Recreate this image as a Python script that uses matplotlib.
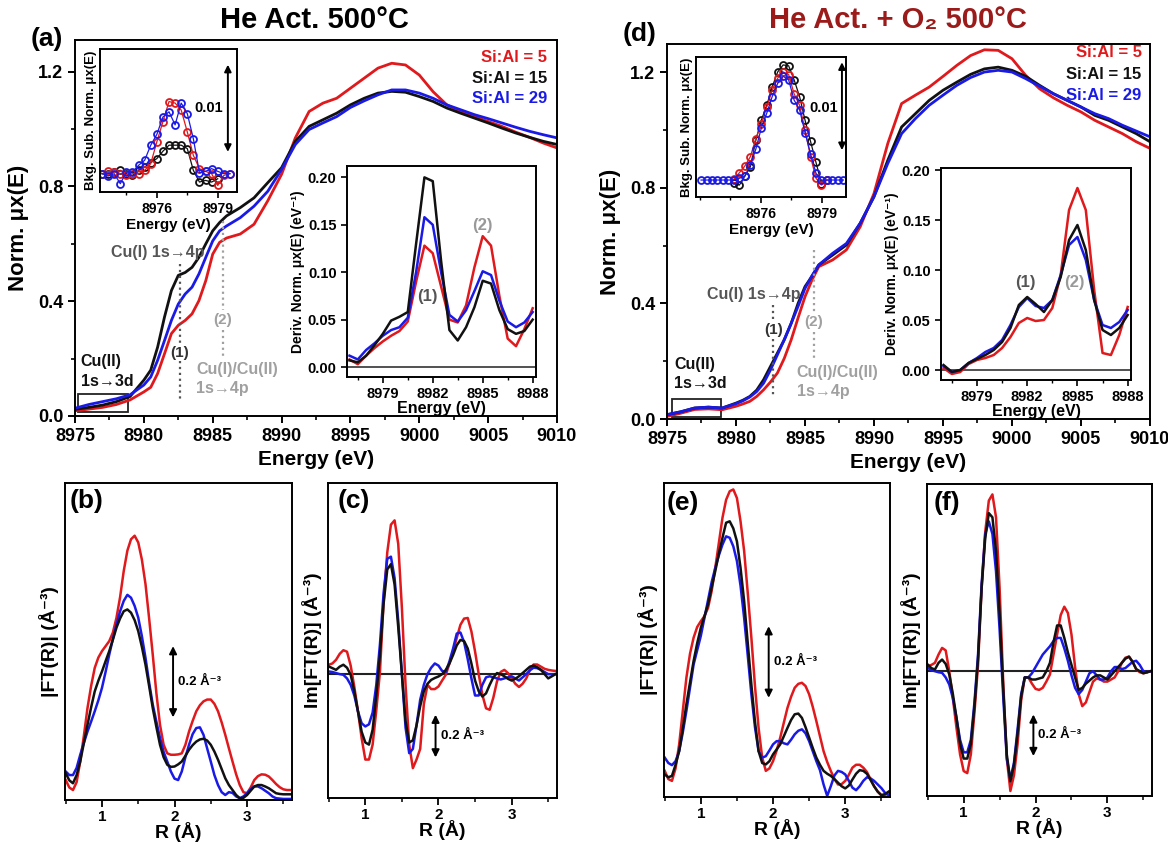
import numpy as np
import matplotlib
matplotlib.use('Agg')
import matplotlib.pyplot as plt
from matplotlib.patches import Rectangle
from matplotlib.ticker import MultipleLocator, FormatStrFormatter

plt.rcParams['font.family'] = ['Liberation Sans', 'DejaVu Sans']
plt.rcParams['font.weight'] = 'bold'
plt.rcParams['axes.labelweight'] = 'bold'
plt.rcParams['axes.linewidth'] = 1.4

RED = '#e0191c'
BLUE = '#1a1ae6'
BLACK = '#111111'
labels = ['Si:Al = 5', 'Si:Al = 15', 'Si:Al = 29']
colors = [RED, BLACK, BLUE]

# ---------------- XANES (main panels a, d) ----------------
E_main = [8975, 8976, 8977, 8978, 8979, 8980, 8980.5, 8981, 8981.5, 8982, 8982.5,
          8983, 8983.5, 8984, 8984.5, 8985, 8985.5, 8986, 8987, 8988, 8989, 8990,
          8991, 8992, 8993, 8994, 8995, 8996, 8997, 8998, 8999, 9000, 9001, 9002,
          9003, 9004, 9005, 9006, 9007, 9008, 9009, 9010]

a_red = [.018, .024, .03, .04, .056, .084, .10, .148, .217, .287, .316, .333, .356, .402,
         .472, .564, .605, .62, .634, .668, .75, .842, .969, 1.061, 1.09, 1.107, 1.142,
         1.177, 1.212, 1.229, 1.223, 1.188, 1.13, 1.084, 1.061, 1.043, 1.026, 1.009, .989,
         .971, .951, .934]
a_black = [.023, .03, .038, .05, .068, .125, .16, .24, .345, .437, .49, .50, .518, .553,
           .60, .645, .674, .697, .726, .76, .813, .865, .957, 1.009, 1.032, 1.055, 1.084,
           1.107, 1.125, 1.131, 1.128, 1.113, 1.096, 1.073, 1.055, 1.038, 1.021, 1.003,
           .986, .971, .957, .946]
a_blue = [.027, .04, .05, .06, .074, .108, .136, .194, .263, .333, .39, .425, .449, .495,
          .553, .61, .645, .662, .691, .731, .783, .859, .946, .998, 1.021, 1.043, 1.075,
          1.098, 1.119, 1.136, 1.136, 1.125, 1.107, 1.084, 1.067, 1.05, 1.036, 1.021,
          1.006, .992, .98, .969]

d_red = [.009, .02, .033, .035, .032, .044, .052, .061, .078, .101, .128, .159, .21, .274,
         .35, .423, .48, .527, .55, .585, .665, .78, .953, 1.091, 1.12, 1.148, 1.185,
         1.223, 1.257, 1.277, 1.275, 1.246, 1.188, 1.142, 1.111, 1.085, 1.062, 1.033,
         1.01, .987, .959, .936]
d_black = [.015, .025, .038, .041, .038, .055, .065, .078, .10, .136, .182, .228, .274,
           .331, .40, .458, .493, .533, .567, .602, .677, .769, .895, 1.01, 1.056, 1.102,
           1.137, 1.165, 1.192, 1.211, 1.217, 1.206, 1.185, 1.154, 1.125, 1.102, 1.079,
           1.05, 1.033, 1.01, .987, .959]
d_blue = [.015, .025, .038, .041, .038, .053, .063, .076, .095, .124, .17, .222, .275,
          .331, .39, .452, .495, .533, .573, .607, .677, .769, .884, .987, 1.039, 1.085,
          1.12, 1.154, 1.181, 1.2, 1.206, 1.2, 1.177, 1.151, 1.125, 1.102, 1.079, 1.056,
          1.039, 1.016, .996, .976]

# pre-edge insets (background subtracted, units of 1e-3)
E_pre_a = [8973.3, 8973.6, 8973.9, 8974.2, 8974.5, 8974.8, 8975.1, 8975.4, 8975.7, 8976.0,
           8976.3, 8976.6, 8976.9, 8977.2, 8977.5, 8977.8, 8978.1, 8978.4, 8978.7, 8979.0,
           8979.3, 8979.6]
pre_a_red = [0, .27, .2, 0, -.1, 0, 0, .38, 1.15, 3.65, 5.96, 8.27, 8.1, 7.3, 4.8, 2.1,
             .58, .27, 0, -1.35, -.2, 0]
pre_a_black = [0, 0, .2, .38, 0, -.2, .38, .77, 1.27, 1.73, 2.58, 3.27, 3.27, 3.27, 2.88,
               .38, -.96, -.77, -.96, -.58, np.nan, np.nan]
pre_a_blue = [0, -.27, 0, -1.15, .2, .2, .96, 1.54, 3.27, 4.5, 6.5, 7.1, 5.6, 8.1, 6.9,
              4.0, .1, .27, .58, .27, 0, 0]

E_pre_d = [8973.05, 8973.32, 8973.59, 8973.86, 8974.13, 8974.40, 8974.67, 8974.94,
           8975.21, 8975.48, 8975.75, 8976.02, 8976.29, 8976.56, 8976.83, 8977.10,
           8977.37, 8977.64, 8977.91, 8978.18, 8978.45, 8978.72, 8978.99, 8979.26,
           8979.53, 8979.80, 8980.07]
nan = np.nan
pre_d_red = [nan, nan, nan, nan, nan, nan, .1, .83, 1.6, 2.65, 4.7, 6.4, 8.3, 10.2, 11.6,
             12.3, 12.0, 9.8, 8.5, 5.7, 2.65, .2, -.57, 0, nan, nan, nan]
pre_d_black = [nan, nan, nan, nan, nan, nan, -.3, -.57, .45, 1.5, 4.5, 6.8, 8.5, 10.6,
               12.3, 13.1, 13.0, 11.4, 9.5, 6.8, 4.4, 2.0, -.4, 0, nan, nan, nan]
pre_d_blue = [0, 0, 0, 0, 0, 0, 0, .2, .45, 1.7, 3.5, 5.9, 7.6, 9.5, 11.0, 11.8, 11.4,
              9.1, 8.0, 5.4, 3.0, .76, 0, 0, 0, 0, 0]

# first derivative insets
E_der = [8977.0, 8977.5, 8978.0, 8978.5, 8979.0, 8979.5, 8980.0, 8980.5, 8981.0, 8981.5,
         8982.0, 8982.5, 8983.0, 8983.5, 8984.0, 8984.5, 8985.0, 8985.5, 8986.0, 8986.5,
         8987.0, 8987.5, 8988.0]
der_a_red = [.008, .003, .012, .02, .027, .033, .038, .048, .09, .128, .12, .085, .05,
             .047, .065, .105, .138, .128, .075, .03, .022, .04, .062]
der_a_black = [.007, .005, .012, .023, .035, .049, .053, .058, .13, .20, .196, .112, .039,
               .028, .042, .063, .091, .088, .06, .04, .035, .038, .05]
der_a_blue = [.012, .008, .018, .025, .033, .039, .042, .052, .10, .158, .150, .10, .055,
              .048, .06, .08, .101, .097, .07, .048, .042, .047, .058]
der_d_red = [.002, -.004, -.002, .006, .01, .012, .015, .022, .033, .047, .052, .049, .05,
             .062, .095, .16, .182, .16, .08, .017, .015, .035, .063]
der_d_black = [.005, -.002, .0, .007, .011, .015, .02, .028, .042, .065, .073, .066, .058,
               .07, .093, .13, .145, .12, .07, .04, .035, .042, .055]
der_d_blue = [.004, -.002, .0, .007, .012, .018, .022, .03, .045, .063, .072, .064, .062,
              .07, .095, .125, .133, .11, .07, .045, .042, .048, .06]

# ---------------- EXAFS (b, c, e, f), R in Angstrom ----------------
R = [0.50, 0.55, 0.60, 0.65, 0.70, 0.75, 0.80, 0.85, 0.90, 0.95, 1.00, 1.05, 1.10, 1.15,
     1.20, 1.25, 1.30, 1.35, 1.40, 1.45, 1.50, 1.55, 1.60, 1.65, 1.70, 1.75, 1.80, 1.85,
     1.90, 1.95, 2.00, 2.05, 2.10, 2.15, 2.20, 2.25, 2.30, 2.35, 2.40, 2.45, 2.50, 2.55,
     2.60, 2.65, 2.70, 2.75, 2.80, 2.85, 2.90, 2.95, 3.00, 3.05, 3.10, 3.15, 3.20, 3.25,
     3.30, 3.35, 3.40, 3.45, 3.50, 3.55, 3.60]

b_red = [.056, .035, .028, .05, .108, .18, .258, .32, .371, .40, .418, .432, .446, .47,
         .512, .57, .643, .70, .732, .742, .723, .675, .606, .51, .408, .30, .211, .155,
         .131, .127, .127, .128, .131, .155, .192, .222, .249, .266, .277, .282, .282, .27,
         .249, .218, .183, .145, .108, .072, .042, .022, .019, .035, .056, .067, .072, .071,
         .066, .056, .045, .036, .03, .028, .028]
b_black = [.075, .055, .047, .07, .108, .16, .211, .26, .305, .335, .361, .39, .418, .45,
           .484, .51, .53, .535, .526, .505, .474, .43, .38, .32, .258, .205, .155, .12,
           .099, .093, .094, .10, .108, .124, .141, .154, .164, .17, .172, .167, .155, .136,
           .113, .087, .061, .042, .028, .014, .005, .006, .014, .026, .038, .042, .042,
           .038, .033, .026, .019, .017, .016, .016, .016]
b_blue = [.08, .07, .07, .09, .127, .16, .192, .22, .249, .28, .315, .36, .408, .452, .493,
          .53, .559, .576, .568, .545, .512, .46, .399, .33, .268, .22, .174, .135, .108,
          .08, .06, .056, .08, .12, .155, .185, .202, .204, .183, .145, .108, .07, .042,
          .022, .014, .022, .02, .01, .005, .01, .019, .03, .038, .038, .033, .026, .019,
          .01, .005, .004, .003, .003, .003]

c_red = [.044, .05, .067, .095, .112, .105, .04, -.06, -.175, -.30, -.40, -.40, -.33, -.17,
         .01, .34, .57, .70, .72, .61, .31, -.05, -.33, -.44, -.40, -.35, -.14, -.05, -.07,
         -.07, -.058, -.03, -.003, .05, .106, .17, .231, .26, .263, .20, .106, .0, -.097,
         -.16, -.167, -.11, -.034, .01, .02, .005, -.02, -.045, -.06, -.045, -.02, .02,
         .045, .045, .035, .025, .02, .017, .015]
c_black = [.036, .028, .02, .035, .044, .03, -.003, -.08, -.175, -.27, -.32, -.33, -.26,
           -.10, .09, .33, .49, .515, .42, .22, .0, -.22, -.32, -.31, -.24, -.15, -.08,
           -.045, -.027, -.018, -.011, .0, .02, .05, .09, .135, .16, .155, .12, .05, -.03,
           -.08, -.105, -.09, -.05, -.015, .005, .0, -.01, -.022, -.03, -.022, -.01, .005,
           .02, .035, .04, .032, .02, .0, -.02, -.01, .0]
c_blue = [.0125, .01, .005, .0, -.003, -.02, -.05, -.10, -.175, -.23, -.245, -.235, -.18,
          -.05, .14, .38, .54, .55, .45, .25, .0, -.25, -.37, -.35, -.24, -.12, -.05, .0,
          .03, .05, .04, .015, .01, .06, .12, .19, .195, .15, .07, -.02, -.10, -.10, -.05,
          -.015, -.01, -.015, -.02, -.025, -.02, -.015, -.01, -.02, -.03, -.015, .0, .018,
          .03, .028, .02, .01, .0, .0, .0]

e_red = [.073, .05, .045, .08, .147, .24, .333, .40, .445, .475, .491, .505, .528, .575,
         .64, .71, .78, .83, .854, .859, .835, .77, .687, .57, .445, .31, .193, .11, .073,
         .08, .10, .13, .166, .208, .249, .28, .305, .316, .319, .31, .287, .252, .212,
         .17, .128, .098, .073, .05, .035, .036, .045, .062, .082, .09, .09, .082, .07,
         .05, .03, .015, .005, .006, .01]
e_black = [.063, .055, .059, .09, .128, .19, .259, .32, .38, .43, .473, .505, .538, .585,
           .631, .68, .724, .766, .77, .75, .714, .64, .547, .43, .314, .21, .128, .095,
           .091, .10, .119, .133, .147, .17, .193, .215, .231, .233, .221, .195, .166, .137,
           .11, .09, .073, .065, .059, .05, .04, .03, .024, .032, .049, .065, .075, .073,
           .065, .048, .03, .015, .005, .008, .015]
e_blue = [.11, .095, .089, .10, .128, .18, .24, .305, .37, .41, .45, .50, .55, .60, .64,
          .675, .705, .728, .724, .70, .659, .59, .5, .395, .287, .195, .128, .11, .114,
          .13, .147, .156, .156, .15, .147, .16, .175, .185, .189, .178, .156, .128, .1,
          .075, .035, .003, .03, .06, .073, .07, .063, .045, .026, .019, .03, .045, .055,
          .052, .045, .035, .025, .012, .005]

f_red = [.024, .03, .04, .08, .112, .10, .0, -.13, -.272, -.40, -.48, -.49, -.40, -.20,
         .03, .40, .67, .82, .85, .74, .40, -.05, -.42, -.576, -.50, -.35, -.14, -.03,
         -.03, -.06, -.085, -.09, -.08, -.05, -.016, .08, .176, .27, .31, .28, .176, .02,
         -.11, -.168, -.15, -.10, -.05, -.035, -.04, -.05, -.05, -.04, -.03, .0, .04, .065,
         .07, .045, .01, -.005, -.01, -.005, .0]
f_black = [.032, .015, .008, .04, .056, .035, -.016, -.11, -.224, -.35, -.42, -.42, -.35,
           -.17, .06, .40, .64, .76, .74, .58, .28, -.08, -.40, -.53, -.45, -.30, -.12,
           -.03, -.03, -.04, -.04, -.035, -.03, .0, .04, .14, .22, .22, .16, .09, .03,
           -.03, -.09, -.08, -.06, -.045, -.03, -.02, -.02, -.03, -.04, -.02, .0, .02, .04,
           .06, .07, .045, .01, .0, -.01, -.005, .0]
f_blue = [.016, .005, .0, -.005, -.008, -.03, -.064, -.13, -.224, -.33, -.39, -.39, -.33,
          -.15, .08, .42, .66, .72, .66, .48, .20, -.12, -.42, -.52, -.44, -.28, -.11,
          -.03, -.03, -.01, .02, .05, .08, .10, .12, .145, .16, .16, .11, .05, -.02, -.08,
          -.11, -.09, -.05, -.01, .0, -.02, -.04, -.04, -.03, .0, .02, .02, .01, .015, .03,
          .045, .05, .03, .0, -.005, .0]


fig = plt.figure(figsize=(11.68, 8.44), dpi=100)


def box(x0, y0, x1, y1):
    # pixel box of the 1168x844 canvas -> figure fraction rect
    return [x0 / 1168, 1 - y1 / 844, (x1 - x0) / 1168, (y1 - y0) / 844]


def arrow(ax, x, y0, y1, ms=11):
    ax.annotate('', xy=(x, y1), xytext=(x, y0),
                arrowprops=dict(arrowstyle='<|-|>', color='black', lw=1.4,
                                mutation_scale=ms, shrinkA=0, shrinkB=0))


def main_panel(rect, red, black, blue, ylim, leg_x, leg_y, ann):
    ax = fig.add_axes(rect)
    for vals, c in [(red, RED), (black, BLACK), (blue, BLUE)]:
        ax.plot(E_main, vals, color=c, lw=2.0)
    ax.set_xlim(8975, 9010)
    ax.set_ylim(*ylim)
    ax.set_xticks([8975, 8980, 8985, 8990, 8995, 9000, 9005, 9010])
    ax.xaxis.set_minor_locator(MultipleLocator(2.5))
    ax.set_yticks([0, 0.4, 0.8, 1.2])
    ax.yaxis.set_minor_locator(MultipleLocator(0.2))
    ax.yaxis.set_major_formatter(FormatStrFormatter('%.1f'))
    ax.tick_params(labelsize=13, width=1.4, length=5)
    ax.tick_params(which='minor', width=1.2, length=3)
    ax.set_xlabel('Energy (eV)', fontsize=15, labelpad=4)
    ax.set_ylabel('Norm. \u03bcx(E)', fontsize=16, labelpad=6)
    for lab, c, y in zip(labels, colors, leg_y):
        ax.text(leg_x, y, lab, color=c, ha='right', va='center', fontsize=12)
    # annotations for the edge features
    x1, x2 = ann['x1'], ann['x2']
    for seg in ann['seg1']:
        ax.plot([x1, x1], seg, ls=':', color='#555555', lw=1.6)
    for seg in ann['seg2']:
        ax.plot([x2, x2], seg, ls=':', color='#a0a0a0', lw=1.6)
    ax.text(x1, ann['t1'], '(1)', color='#333333', ha='center', va='center', fontsize=11)
    ax.text(x2, ann['t2'], '(2)', color='#a0a0a0', ha='center', va='center', fontsize=11)
    ax.text(ann['cu1'][0], ann['cu1'][1], 'Cu(I) 1s\u21924p', color='#555555',
            ha='center', va='center', fontsize=11.5)
    ax.text(ann['cu12'][0], ann['cu12'][1], 'Cu(I)/Cu(II)\n1s\u21924p', color='#a0a0a0',
            ha='left', va='center', fontsize=11.5, linespacing=1.35)
    ax.text(ann['cu2'][0], ann['cu2'][1], 'Cu(II)\n1s\u21923d', color='#111111',
            ha='left', va='center', fontsize=11.5, linespacing=1.35)
    bx = ann['box']
    ax.add_patch(Rectangle((bx[0], bx[1]), bx[2] - bx[0], bx[3] - bx[1], fill=False,
                           lw=1.3, ec='#222222'))
    return ax


def pre_inset(rect, E, red, black, blue, xlim, ylim, arr_x, arr_y, lab_xy):
    ax = fig.add_axes(rect)
    for vals, c in [(black, BLACK), (red, RED), (blue, BLUE)]:
        ax.plot(E, vals, color=c, lw=0.9, marker='o', ms=5, mfc='none', mew=1.3)
    ax.set_xlim(*xlim)
    ax.set_ylim(*ylim)
    ax.set_xticks([8976, 8979])
    ax.xaxis.set_minor_locator(MultipleLocator(1.5))
    ax.set_yticks([])
    ax.tick_params(labelsize=10, width=1.2, length=4)
    ax.tick_params(which='minor', width=1.0, length=2.5)
    ax.set_xlabel('Energy (eV)', fontsize=11, labelpad=1)
    ax.set_ylabel('Bkg. Sub. Norm. \u03bcx(E)', fontsize=9.5, labelpad=2)
    arrow(ax, arr_x, arr_y[0], arr_y[1], ms=10)
    ax.text(lab_xy[0], lab_xy[1], '0.01', ha='center', va='center', fontsize=10.5)
    return ax


def der_inset(rect, red, black, blue, ylim, t1, t2):
    ax = fig.add_axes(rect)
    ax.axhline(0, color='#333333', lw=1.2)
    for vals, c in [(red, RED), (blue, BLUE), (black, BLACK)]:
        ax.plot(E_der, vals, color=c, lw=1.8)
    ax.set_xlim(8976.85, 8988.2)
    ax.set_ylim(*ylim)
    ax.set_xticks([8979, 8982, 8985, 8988])
    ax.xaxis.set_minor_locator(MultipleLocator(1.5))
    ax.set_yticks([0, 0.05, 0.10, 0.15, 0.20])
    ax.yaxis.set_major_formatter(FormatStrFormatter('%.2f'))
    ax.tick_params(labelsize=10.5, width=1.2, length=4)
    ax.tick_params(which='minor', width=1.0, length=2.5)
    ax.set_xlabel('Energy (eV)', fontsize=11.5, labelpad=0)
    ax.set_ylabel('Deriv. Norm. \u03bcx(E) (eV\u207b\u00b9)', fontsize=10, labelpad=2)
    ax.text(t1[0], t1[1], '(1)', color='#555555', ha='center', va='center', fontsize=12)
    ax.text(t2[0], t2[1], '(2)', color='#999999', ha='center', va='center', fontsize=12)
    return ax


def exafs_panel(rect, red, black, blue, ylim, ylabel, arr, zero=False):
    ax = fig.add_axes(rect)
    if zero:
        ax.axhline(0, color='#222222', lw=1.5, zorder=1)
    for vals, c in [(red, RED), (blue, BLUE), (black, BLACK)]:
        ax.plot(R, vals, color=c, lw=1.8, zorder=2)
    ax.set_xlim(0.49, 3.62)
    ax.set_ylim(*ylim)
    ax.set_xticks([1, 2, 3])
    ax.xaxis.set_minor_locator(MultipleLocator(0.5))
    ax.set_yticks([])
    ax.tick_params(labelsize=11, width=1.3, length=5, pad=2)
    ax.tick_params(which='minor', width=1.1, length=3)
    ax.set_xlabel('R (\u00c5)', fontsize=14, labelpad=-1)
    ax.set_ylabel(ylabel, fontsize=14, labelpad=4)
    arrow(ax, arr[0], arr[1], arr[2], ms=11)
    ax.text(arr[0] + 0.07, (arr[1] + arr[2]) / 2, '0.2 \u00c5\u207b\u00b3',
            ha='left', va='center', fontsize=9.5)
    return ax


# ---- left column: He Act. 500 C ----
main_panel(box(75, 40, 557, 416), a_red, a_black, a_blue, (0, 1.31), 9009.3,
           [1.249, 1.176, 1.106],
           dict(x1=8982.6, x2=8985.75, seg1=[(0.53, 0.245), (0.19, 0.055)],
                seg2=[(0.68, 0.37), (0.30, 0.21)], t1=0.219, t2=0.335,
                cu1=(8981.0, 0.57), cu12=(8983.8, 0.13), cu2=(8975.4, 0.155),
                box=(8975.2, 0.014, 8978.85, 0.077)))
pre_inset(box(100, 49, 237, 192), E_pre_a, pre_a_red, pre_a_black, pre_a_blue,
          (8973.2, 8979.95), (-2.1, 14.3), 8979.5, (2.5, 12.5), (8978.55, 7.5))
der_inset(box(347, 166, 536, 377), der_a_red, der_a_black, der_a_blue,
          (-0.0105, 0.212), (8981.7, 0.074), (8985.0, 0.149))

# ---- right column: He Act. + O2 500 C ----
main_panel(box(667, 44, 1150, 419), d_red, d_black, d_blue, (0, 1.297), 9009.4,
           [1.266, 1.19, 1.118],
           dict(x1=8982.7, x2=8985.65, seg1=[(0.395, 0.34), (0.275, 0.083)],
                seg2=[(0.585, 0.365), (0.30, 0.20)], t1=0.308, t2=0.336,
                cu1=(8981.3, 0.43), cu12=(8984.4, 0.127), cu2=(8975.5, 0.155),
                box=(8975.35, 0.007, 8978.9, 0.069)))
pre_inset(box(696, 57, 846, 197), E_pre_d, pre_d_red, pre_d_black, pre_d_blue,
          (8972.8, 8980.2), (-1.93, 14.0), 8980.0, (3.4, 13.4), (8979.1, 8.2))
der_inset(box(941, 168, 1131, 380), der_d_red, der_d_black, der_d_blue,
          (-0.01, 0.202), (8981.9, 0.088), (8984.8, 0.088))

# ---- EXAFS panels ----
exafs_panel(box(65, 483, 292, 800), b_red, b_black, b_blue, (0, 0.89),
            '|FT(R)| (\u00c5\u207b\u00b3)', (1.98, 0.232, 0.432))
exafs_panel(box(328, 483, 557, 798), c_red, c_black, c_blue, (-0.58, 0.895),
            'Im[FT(R)] (\u00c5\u207b\u00b3)', (1.96, -0.39, -0.19), zero=True)
exafs_panel(box(664, 483, 890, 797), e_red, e_black, e_blue, (0, 0.877),
            '|FT(R)| (\u00c5\u207b\u00b3)', (1.94, 0.277, 0.477))
exafs_panel(box(927, 484, 1152, 796), f_red, f_black, f_blue, (-0.60, 0.90),
            'Im[FT(R)] (\u00c5\u207b\u00b3)', (1.97, -0.408, -0.208), zero=True)

# titles and panel letters
fig.text(314 / 1168, 1 - 20 / 844, 'He Act. 500\u00b0C', ha='center', va='center',
         fontsize=21)
fig.text(898 / 1168, 1 - 20 / 844, 'He Act. + O\u2082 500\u00b0C', ha='center',
         va='center', fontsize=21, color='#9b1b1b')
for letter, x, y in [('(a)', 47, 39), ('(d)', 640, 34), ('(b)', 87, 501),
                     ('(c)', 354, 501), ('(e)', 683, 503), ('(f)', 947, 503)]:
    fig.text(x / 1168, 1 - y / 844, letter, ha='center', va='center', fontsize=19)

fig.savefig('out.png', dpi=100)
